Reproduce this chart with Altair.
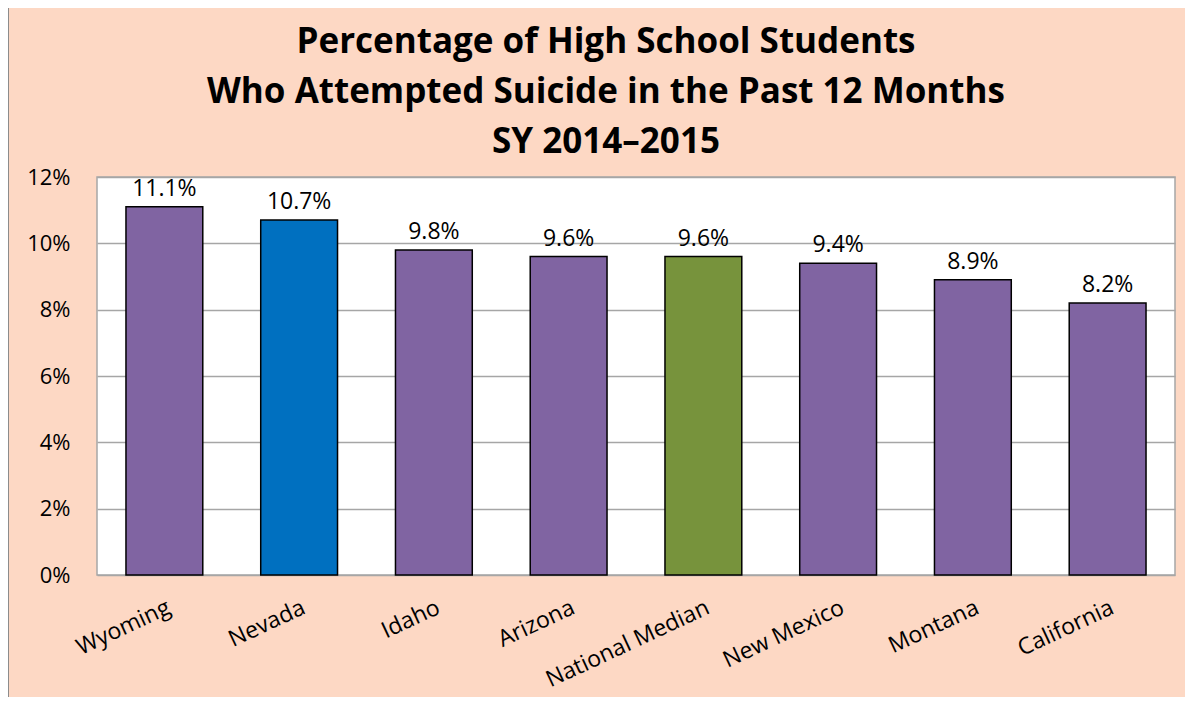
import altair as alt
import pandas as pd

states = ["Wyoming", "Nevada", "Idaho", "Arizona", "National Median", "New Mexico", "Montana", "California"]
values = [11.1, 10.7, 9.8, 9.6, 9.6, 9.4, 8.9, 8.2]
groups = ["state", "nevada", "state", "state", "median", "state", "state", "state"]
group_colors = {"state": "#8064A2", "nevada": "#0070C0", "median": "#77933C"}
title_lines = ["Percentage of High School Students",
               "Who Attempted Suicide in the Past 12 Months",
               "SY 2014\u20132015"]

df = pd.DataFrame({"state": states, "value": values, "group": groups})
df["label"] = [f"{v:.1f}%" for v in values]

FONT = "Open Sans"

x = alt.X("state:N", sort=states, title=None,
          scale=alt.Scale(paddingInner=0.43, paddingOuter=0.215),
          axis=alt.Axis(labelAngle=-25, labelAlign="right", labelBaseline="top",
                        labelPadding=21, labelFontSize=23, labelFont=FONT,
                        labelColor="black", ticks=False, domain=False))
y = alt.Y("value:Q", title=None,
          scale=alt.Scale(domain=[0, 12], nice=False),
          axis=alt.Axis(values=[0, 2, 4, 6, 8, 10, 12], labelExpr="datum.value + '%'",
                        labelFontSize=22, labelFont=FONT, labelColor="black",
                        labelPadding=27, ticks=False, domain=False,
                        gridColor="#A6A6A6", gridWidth=1.5))

bars = alt.Chart(df).mark_bar(stroke="black", strokeWidth=1.5).encode(
    x=x, y=y,
    color=alt.Color("group:N", scale=alt.Scale(domain=list(group_colors.keys()),
                                               range=list(group_colors.values())), legend=None),
)
labels = alt.Chart(df).mark_text(dy=-18, fontSize=23, font=FONT, color="black").encode(
    x=alt.X("state:N", sort=states), y="value:Q", text="label:N"
)
one = pd.DataFrame({"k": [0]})
title = alt.Chart(one).mark_text(
    font=FONT, fontSize=35, fontWeight="bold", color="black",
    baseline="alphabetic", align="center", lineHeight=50,
).encode(x=alt.value(509), y=alt.value(-124), text=alt.value(title_lines))
border = alt.Chart(one).mark_rule(color="#8C8C8C", strokeWidth=2).encode(
    x=alt.value(-88), x2=alt.value(1090), y=alt.value(-170)
)
border_left = alt.Chart(one).mark_rule(color="#8C8C8C", strokeWidth=2).encode(
    x=alt.value(-89), y=alt.value(-170), y2=alt.value(530)
)

chart = alt.layer(bars, labels, title, border, border_left).properties(
    width=1078, height=398,
    autosize=alt.AutoSizeParams(type="none"),
    padding={"left": 89, "top": 169, "right": 10, "bottom": 122},
    background="#FDD8C4",
).configure_view(stroke="#A6A6A6", strokeWidth=1.5, fill="white")

chart.save("out.html", embed_options={"renderer": "svg", "actions": False})
